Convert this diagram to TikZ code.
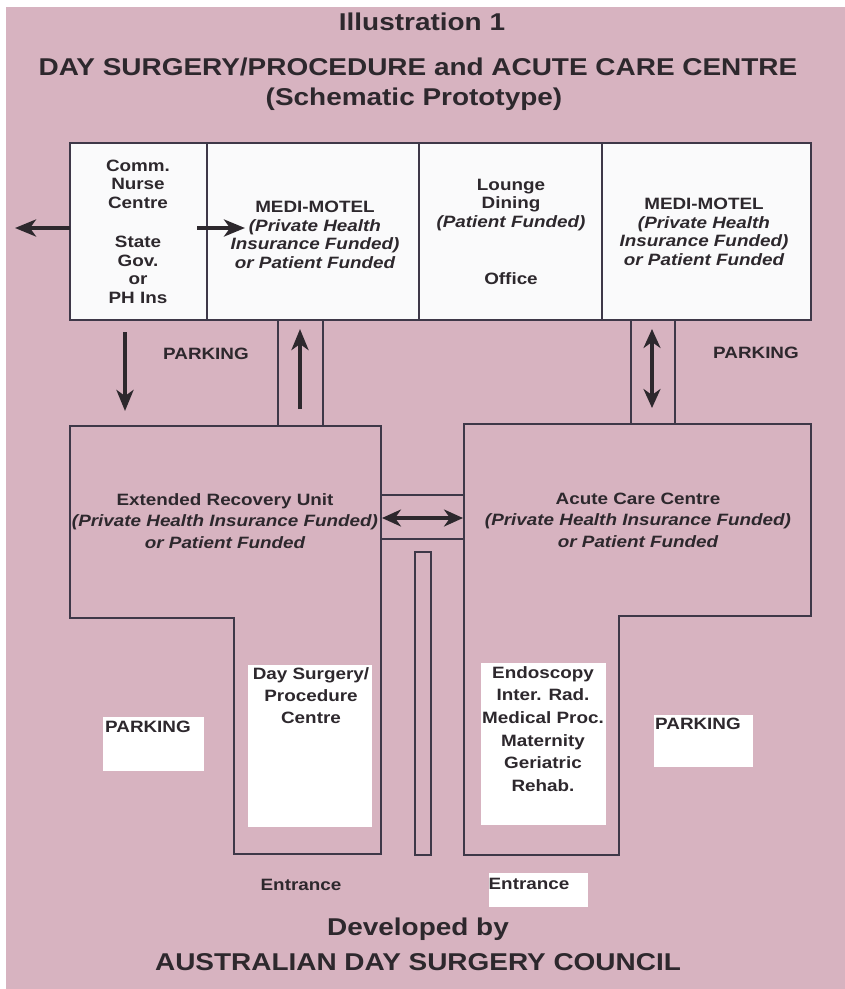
\documentclass[tikz,border=0pt]{standalone}
\usepackage{fontspec}
\setmainfont{Liberation Sans}[FakeStretch=1.15]
\usetikzlibrary{arrows.meta}
\definecolor{pinkbg}{RGB}{215,179,192}
\definecolor{ink}{RGB}{45,40,45}
\definecolor{linec}{RGB}{62,56,72}
\definecolor{boxw}{RGB}{250,250,251}
\newcommand\bodyfnt{\bfseries\fontsize{16.4}{18.5}\selectfont}
\newcommand\titlefnt{\bfseries\fontsize{24.3}{30}\selectfont}
\begin{document}
\begin{tikzpicture}[x=1pt,y=-1pt,
  wall/.style={draw=linec, line width=1.3pt},
  lbl/.style={text=ink, font=\bodyfnt, align=center, inner sep=0pt},
  ttl/.style={text=ink, font=\titlefnt, align=center, inner sep=0pt},
  whitebox/.style={fill=white, draw=none},
  bigarrow/.style={draw=ink, line width=4pt, -{Stealth[length=21pt,width=17pt,inset=6pt]}},
  bigdouble/.style={draw=ink, line width=4pt, {Stealth[length=19pt,width=17pt,inset=6pt]}-{Stealth[length=19pt,width=17pt,inset=6pt]}}
]
\useasboundingbox (0,0) rectangle (845,989);
\fill[white] (0,0) rectangle (845,989);
\fill[pinkbg] (6,7) rectangle (845,989);

% ---------- titles ----------
\node[ttl] (t1) at (422,22) {Illustration 1};
\node[ttl] (t2) at (418,67) {DAY SURGERY/PROCEDURE and ACUTE CARE CENTRE};
\node[ttl] (t3) at (414,99) {(Schematic Prototype)};
\node[ttl] (f1) at (418,929) {Developed by};
\node[ttl] (f2) at (418,962) {AUSTRALIAN DAY SURGERY COUNCIL};

% ---------- top block ----------
\draw[wall, fill=boxw] (70,143) rectangle (811,320);
\draw[wall] (207,143) -- (207,320);
\draw[wall] (419,143) -- (419,320);
\draw[wall] (602,143) -- (602,320);

\node[lbl] (cn) at (138,184) {Comm.\\Nurse\\Centre};
\node[lbl] (sg) at (138,270) {State\\Gov.\\or\\PH Ins};
\node[lbl] (mm1) at (315,235) {MEDI-MOTEL\\\itshape(Private Health\\\itshape Insurance Funded)\\\itshape or Patient Funded};
\node[lbl] (ld) at (511,205) {Lounge\\Dining\\\itshape(Patient Funded)};
\node[lbl] (of) at (511,279) {Office};
\node[lbl] (mm2) at (704,232) {MEDI-MOTEL\\\itshape(Private Health\\\itshape Insurance Funded)\\\itshape or Patient Funded};

% ---------- corridors ----------
\draw[wall] (278,320) -- (278,426);
\draw[wall] (323,320) -- (323,426);
\draw[wall] (631,320) -- (631,424);
\draw[wall] (675,320) -- (675,424);

\node[lbl] (p1) at (206,354) {PARKING};
\node[lbl] (p2) at (756,353) {PARKING};

% ---------- lower buildings ----------
\draw[wall] (70,426) -- (381,426) -- (381,854) -- (234,854) -- (234,618) -- (70,618) -- cycle;
\draw[wall] (464,424) -- (811,424) -- (811,616) -- (619,616) -- (619,855) -- (464,855) -- cycle;
\draw[wall] (381,495) -- (464,495);
\draw[wall] (381,539) -- (464,539);
\draw[wall] (415,552) rectangle (431,855);

\node[lbl, font=\bfseries\fontsize{16.4}{21.5}\selectfont] (eru) at (225,521) {Extended Recovery Unit\\\itshape(Private Health Insurance Funded)\\\itshape or Patient Funded};
\node[lbl, font=\bfseries\fontsize{16.4}{21.5}\selectfont] (acc) at (638,520) {Acute Care Centre\\\itshape(Private Health Insurance Funded)\\\itshape or Patient Funded};

% white panels
\path[whitebox] (248,665) rectangle (372,827);
\path[whitebox] (481,663) rectangle (606,825);
\path[whitebox] (103,717) rectangle (204,771);
\path[whitebox] (654,715) rectangle (753,767);
\path[whitebox] (489,873) rectangle (588,907);

\node[lbl, font=\bfseries\fontsize{16.4}{22}\selectfont] (ds) at (311,696) {Day Surgery/\\Procedure\\Centre};
\node[lbl, font=\bfseries\fontsize{16.4}{22.6}\selectfont] (en) at (543,729) {Endoscopy\\Inter. Rad.\\Medical Proc.\\Maternity\\Geriatric\\Rehab.};
\node[lbl, anchor=west] (p3) at (105,727) {PARKING};
\node[lbl, anchor=west] (p4) at (655,724) {PARKING};
\node[lbl] (e1) at (301,885) {Entrance};
\node[lbl] (e2) at (529,884) {Entrance};

% ---------- arrows ----------
\coordinate (a1s) at (70,228);  \coordinate (a1e) at (15,228);
\coordinate (a2s) at (197,228); \coordinate (a2e) at (245,228);
\coordinate (a3s) at (125,332); \coordinate (a3e) at (125,411);
\coordinate (a4s) at (300,409); \coordinate (a4e) at (300,329);
\coordinate (a5s) at (652,329); \coordinate (a5e) at (652,408);
\coordinate (a6s) at (382,518); \coordinate (a6e) at (463,518);
\draw[bigarrow] (a1s) -- (a1e);
\draw[bigarrow] (a2s) -- (a2e);
\draw[bigarrow] (a3s) -- (a3e);
\draw[bigarrow] (a4s) -- (a4e);
\draw[bigdouble] (a5s) -- (a5e);
\draw[bigdouble] (a6s) -- (a6e);
\end{tikzpicture}
\end{document}
